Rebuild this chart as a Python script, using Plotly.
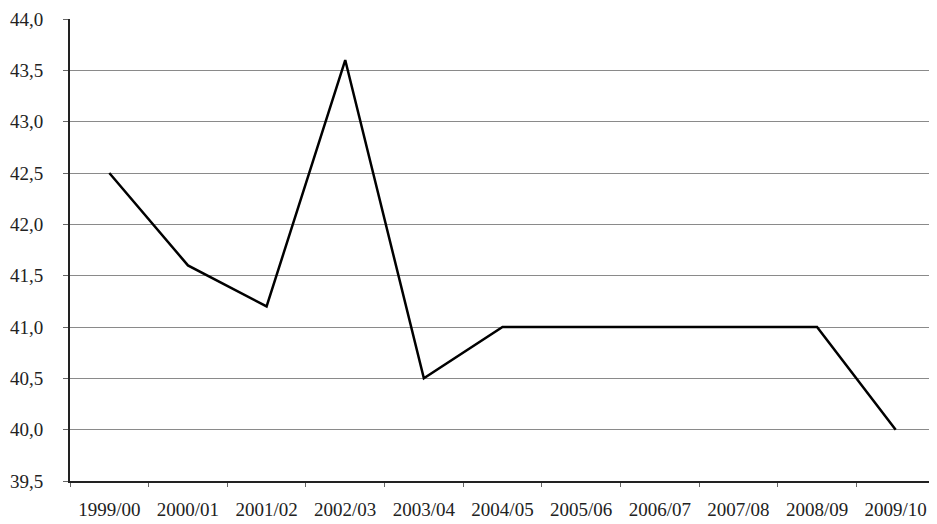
import plotly.graph_objects as go

# Season labels and values
seasons = ["1999/00", "2000/01", "2001/02", "2002/03", "2003/04", "2004/05",
           "2005/06", "2006/07", "2007/08", "2008/09", "2009/10"]
values = [42.5, 41.6, 41.2, 43.6, 40.5, 41.0, 41.0, 41.0, 41.0, 41.0, 40.0]

fig = go.Figure(go.Scatter(
    x=seasons, y=values, mode="lines",
    line=dict(color="black", width=2.5),
    showlegend=False,
))

# page body has an 8px margin, so the figure is a bit smaller than the window
fig.update_layout(
    width=929, height=516,
    margin=dict(l=62, r=2, t=11, b=43),
    paper_bgcolor="white", plot_bgcolor="white",
    separators=", ",
    font=dict(family="Liberation Serif", size=19, color="#222"),
)

fig.update_xaxes(
    type="category", range=[-0.5, len(seasons) - 0.5], showgrid=False,
    showline=True, linecolor="#222", linewidth=2,
    ticks="outside", tickson="boundaries", ticklen=4, tickcolor="#666",
    ticklabelstandoff=10, automargin=False,
)
fig.update_yaxes(
    range=[39.5, 44.0], dtick=0.5, tickformat=".1f",
    showgrid=True, gridcolor="#8a8a8a", gridwidth=1,
    showline=True, linecolor="#222", linewidth=2,
    ticks="outside", ticklen=5, tickcolor="#666",
    ticklabelstandoff=16, zeroline=False, automargin=False,
)

# thin right border of the plot area
fig.add_shape(type="line", xref="paper", yref="paper", x0=1, x1=1, y0=0, y1=1,
              line=dict(color="#555", width=1))

fig.write_html("out.html")
